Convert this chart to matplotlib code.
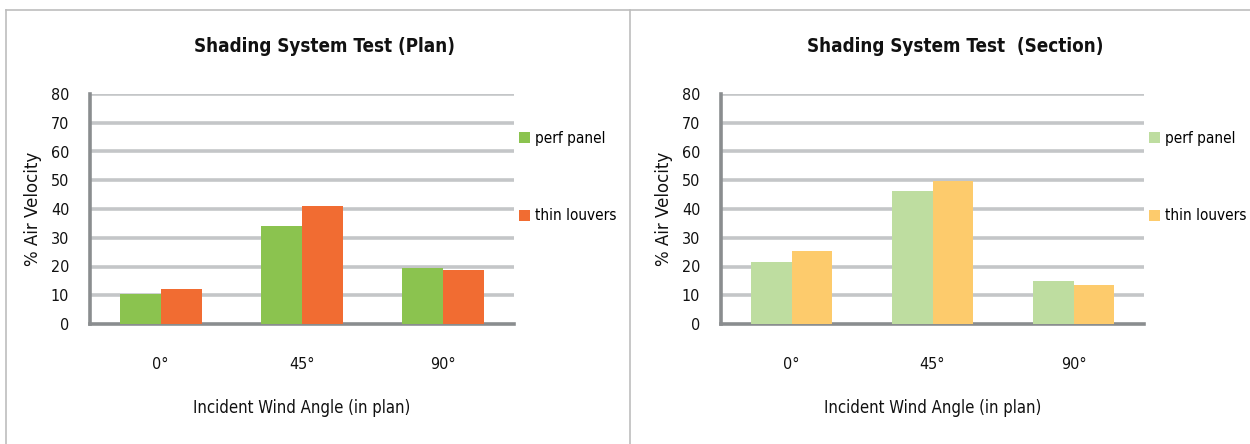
import matplotlib
matplotlib.use("Agg")
import matplotlib.pyplot as plt
from matplotlib.lines import Line2D
import numpy as np

plt.rcParams['font.family'] = ['Liberation Sans Narrow', 'DejaVu Sans']
plt.rcParams['font.stretch'] = 'condensed'

angles = ["0°", "45°", "90°"]
series = ["perf panel", "thin louvers"]

plan_perf = [10.3, 34.1, 19.4]
plan_louvers = [12.1, 41.1, 18.7]

section_perf = [21.4, 46.3, 14.8]
section_louvers = [25.3, 49.8, 13.4]

W, H = 1250, 444
fig = plt.figure(figsize=(W / 100, H / 100), dpi=100)

GRID = "#C4C6C8"
SPINE = "#8A8D8F"


def px_axes(x0, y0, x1, y1):
    return fig.add_axes([x0 / W, 1 - y1 / H, (x1 - x0) / W, (y1 - y0) / H])


def draw_panel(ax, title, a, b, colors, title_x):
    x = np.arange(len(angles))
    w = 0.29
    ax.bar(x - w / 2, a, w, color=colors[0], label=series[0], zorder=3)
    ax.bar(x + w / 2, b, w, color=colors[1], label=series[1], zorder=3)
    ax.set_xlim(-0.5, len(angles) - 0.5)
    ax.set_ylim(0, 80)
    ax.set_yticks(range(0, 81, 10))
    ax.set_xticks(x)
    ax.set_xticklabels(angles)
    for yv in range(10, 81, 10):
        ax.axhline(yv, color=GRID, lw=2.6, zorder=1)
    for s in ("top", "right"):
        ax.spines[s].set_visible(False)
    for s in ("left", "bottom"):
        ax.spines[s].set_color(SPINE)
        ax.spines[s].set_linewidth(2.6)
    ax.tick_params(axis="both", length=0, labelsize=11.5, colors="#111111")
    ax.tick_params(axis="y", pad=15)
    ax.tick_params(axis="x", pad=24)
    ax.set_ylabel("% Air Velocity", fontsize=12, family="DejaVu Sans",
                  fontstretch="normal", labelpad=6, color="#111111")
    ax.set_xlabel("Incident Wind Angle (in plan)", fontsize=12,
                  labelpad=19, color="#111111")
    fig.text(title_x / W, 1 - 47 / H, title, ha="center", va="center",
             fontsize=13.5, fontweight="bold", color="#111111")
    ax.legend(loc="upper left", bbox_to_anchor=(1.012, 0.84), frameon=False,
              fontsize=11, handlelength=0.72, handleheight=0.72,
              handletextpad=0.3, labelspacing=4.1, borderpad=0,
              borderaxespad=0)


ax1 = px_axes(90, 94, 514, 324)
draw_panel(ax1, "Shading System Test (Plan)", plan_perf, plan_louvers,
           ("#8BC34F", "#F16C32"), 325)

ax2 = px_axes(721, 94, 1144, 324)
draw_panel(ax2, "Shading System Test  (Section)", section_perf, section_louvers,
           ("#BEDDA0", "#FDCB6C"), 955)

# outer frame and divider between the two panels
frame = dict(color="#BDBDBD", lw=1.2, transform=fig.transFigure)
fig.add_artist(Line2D([6 / W, 1.0], [1 - 10 / H, 1 - 10 / H], **frame))
fig.add_artist(Line2D([6 / W, 6 / W], [0, 1 - 10 / H], **frame))
fig.add_artist(Line2D([630 / W, 630 / W], [0, 1 - 10 / H], **frame))

fig.savefig("out.png", dpi=100, facecolor="white")
